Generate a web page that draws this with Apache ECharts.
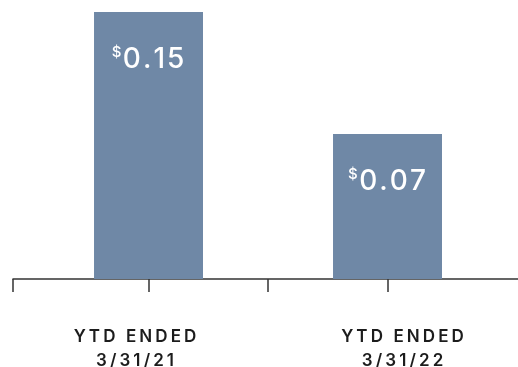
<!DOCTYPE html>
<html>
<head>
<meta charset="utf-8">
<script src="https://cdn.jsdelivr.net/npm/echarts@6/dist/echarts.min.js"></script>
<style>
  html, body { margin: 0; padding: 0; background: #ffffff; }
  #chart { width: 518px; height: 367px; }
</style>
</head>
<body>
<div id="chart"></div>
<script>
// Earnings per share, year to date
const categories = ['YTD ENDED\n3/31/21', 'YTD ENDED\n3/31/22'];
const eps = [0.15, 0.07];

const BAR_COLOR = '#6f88a6';
const AXIS_COLOR = '#333333';
const TEXT_COLOR = '#1c1c1c';
const FONT = 'Inter';

// axis extents (x in category-index units, y in dollars)
const X_MIN = -0.567, X_MAX = 1.546;
const Y_MIN = -0.025, Y_MAX = 0.15;

// spread each character into its own rich token so the text is tracked out
function tracked(str, style, lead, trail) {
  return str.split('\n').map(line =>
    (lead ? '{' + lead + '| }' : '') +
    line.split('').map(ch => '{' + style + '|' + ch + '}').join('') +
    (trail ? '{' + trail + '| }' : '')
  ).join('\n');
}

const chart = echarts.init(document.getElementById('chart'), null, { renderer: 'canvas' });

chart.setOption({
  animation: false,
  backgroundColor: '#ffffff',
  grid: { left: 13, right: 0, top: 12, bottom: 88, outerBoundsMode: 'none' },
  xAxis: {
    type: 'value',
    min: X_MIN,
    max: X_MAX,
    splitLine: { show: false },
    axisLine: { show: true, onZero: false, lineStyle: { color: AXIS_COLOR, width: 1.5 } },
    axisTick: {
      show: true,
      length: 13,
      customValues: [X_MIN, 0, 0.5, 1],
      lineStyle: { color: AXIS_COLOR, width: 1.5 }
    },
    axisLabel: {
      show: true,
      customValues: [0, 1],
      margin: 45.5,
      formatter: v => {
        const i = Math.round(v);
        // first label sits a little left of its bar, second a little right
        return i === 0
          ? tracked(categories[i], 'c', null, 'gl')
          : tracked(categories[i], 'c', 'gr', null);
      },
      rich: {
        c: { fontFamily: FONT, fontWeight: 600, fontSize: 17, color: TEXT_COLOR, lineHeight: 24, padding: [0, 1.55, 0, 1.55] },
        gl: { fontFamily: FONT, fontSize: 17, lineHeight: 24, width: 27 },
        gr: { fontFamily: FONT, fontSize: 17, lineHeight: 24, width: 30 }
      }
    }
  },
  yAxis: {
    type: 'value',
    show: false,
    min: Y_MIN,
    max: Y_MAX
  },
  series: [{
    type: 'custom',
    data: eps.map((v, i) => [i, v]),
    renderItem: (params, api) => {
      const i = api.value(0);
      const v = api.value(1);
      const top = api.coord([i, v]);
      const base = api.coord([i, Y_MIN]);
      const w = api.size([0.456, 0])[0];
      return {
        type: 'group',
        children: [{
          type: 'rect',
          shape: { x: top[0] - w / 2, y: top[1], width: w, height: base[1] - top[1] },
          style: { fill: BAR_COLOR }
        }, {
          type: 'text',
          x: top[0],
          y: top[1] + 48,
          style: {
            text: '{s|$}' + tracked(v.toFixed(2), 'n'),
            align: 'center',
            verticalAlign: 'middle',
            fill: '#ffffff',
            rich: {
              s: { fontFamily: FONT, fontWeight: 500, fontSize: 15, fill: '#ffffff', lineHeight: 17, verticalAlign: 'top', padding: [0, 0.5, 0, 0] },
              n: { fontFamily: FONT, fontWeight: 500, fontSize: 28, fill: '#ffffff', lineHeight: 30, padding: [0, 1, 0, 1] }
            }
          }
        }]
      };
    }
  }]
});
</script>
</body>
</html>
